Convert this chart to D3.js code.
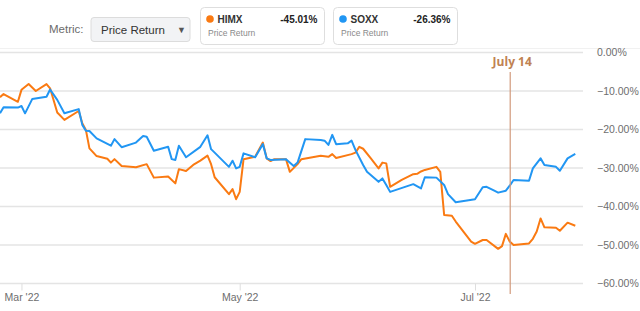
<!DOCTYPE html>
<html>
<head>
<meta charset="utf-8">
<script src="https://cdn.jsdelivr.net/npm/d3@7"></script>
<style>
  html, body { margin: 0; padding: 0; background: #fff; }
  svg { display: block; font-family: "Liberation Sans", Arial, sans-serif; }
</style>
</head>
<body>
<div id="chart"></div>
<script>
// chart size
var chart_width  = 640;
var chart_height = 311;

// series (date, price return %)
var himx = [
  ["2022-02-23", -11.6], ["2022-02-24", -10.8], ["2022-02-28", -12.8], ["2022-03-01", -9.7],
  ["2022-03-03", -8.2], ["2022-03-05", -10.0], ["2022-03-08", -8.2], ["2022-03-09", -9.3],
  ["2022-03-11", -15.6], ["2022-03-13", -17.5], ["2022-03-17", -15.2], ["2022-03-18", -18.4],
  ["2022-03-19", -20.1], ["2022-03-20", -24.9], ["2022-03-22", -26.9], ["2022-03-25", -27.6],
  ["2022-03-26", -28.6], ["2022-03-27", -27.7], ["2022-03-29", -29.5], ["2022-04-02", -29.8],
  ["2022-04-05", -29.0], ["2022-04-07", -32.5], ["2022-04-11", -32.2], ["2022-04-13", -34.0],
  ["2022-04-14", -30.3], ["2022-04-16", -30.8], ["2022-04-18", -29.2], ["2022-04-20", -28.1],
  ["2022-04-22", -26.8], ["2022-04-23", -29.0], ["2022-04-24", -32.4], ["2022-04-28", -36.8],
  ["2022-04-29", -35.5], ["2022-04-30", -38.1], ["2022-05-01", -36.2], ["2022-05-02", -27.7],
  ["2022-05-05", -27.1], ["2022-05-07", -23.4], ["2022-05-08", -27.5], ["2022-05-09", -28.2],
  ["2022-05-10", -27.7], ["2022-05-13", -27.7], ["2022-05-14", -31.0], ["2022-05-16", -29.0],
  ["2022-05-17", -27.7], ["2022-05-22", -26.8], ["2022-05-24", -27.1], ["2022-05-25", -26.4],
  ["2022-05-26", -27.4], ["2022-05-30", -26.4], ["2022-05-31", -26.0], ["2022-06-01", -24.5],
  ["2022-06-02", -25.0], ["2022-06-04", -27.5], ["2022-06-06", -30.1], ["2022-06-07", -28.6],
  ["2022-06-08", -28.8], ["2022-06-09", -34.9], ["2022-06-12", -33.1], ["2022-06-15", -31.6],
  ["2022-06-16", -31.5], ["2022-06-17", -30.9], ["2022-06-18", -30.5], ["2022-06-21", -29.7],
  ["2022-06-22", -31.0], ["2022-06-23", -42.2], ["2022-06-25", -42.4], ["2022-06-26", -43.9],
  ["2022-06-30", -49.1], ["2022-07-01", -49.7], ["2022-07-03", -48.7], ["2022-07-04", -48.7],
  ["2022-07-07", -51.0], ["2022-07-08", -50.3], ["2022-07-09", -47.1], ["2022-07-10", -49.1],
  ["2022-07-11", -50.0], ["2022-07-15", -49.6], ["2022-07-16", -48.4], ["2022-07-17", -46.5],
  ["2022-07-18", -43.1], ["2022-07-19", -45.4], ["2022-07-22", -45.5], ["2022-07-23", -46.3],
  ["2022-07-25", -44.2], ["2022-07-27", -45.01]
];

var soxx = [
  ["2022-02-23", -15.8], ["2022-02-24", -14.2], ["2022-02-28", -14.3], ["2022-03-01", -13.9],
  ["2022-03-02", -15.8], ["2022-03-04", -12.1], ["2022-03-08", -11.5], ["2022-03-09", -9.6],
  ["2022-03-11", -12.3], ["2022-03-13", -15.8], ["2022-03-17", -14.7], ["2022-03-18", -18.8],
  ["2022-03-19", -20.3], ["2022-03-20", -20.4], ["2022-03-22", -22.3], ["2022-03-26", -24.2],
  ["2022-03-27", -22.5], ["2022-03-29", -24.6], ["2022-04-02", -23.4], ["2022-04-04", -21.7],
  ["2022-04-05", -21.9], ["2022-04-07", -25.5], ["2022-04-11", -24.5], ["2022-04-12", -27.7],
  ["2022-04-13", -27.9], ["2022-04-14", -24.2], ["2022-04-16", -27.2], ["2022-04-20", -24.5],
  ["2022-04-22", -21.5], ["2022-04-23", -25.1], ["2022-04-24", -26.0], ["2022-04-28", -29.7],
  ["2022-04-29", -28.1], ["2022-04-30", -30.1], ["2022-05-01", -29.7], ["2022-05-02", -26.2],
  ["2022-05-05", -27.2], ["2022-05-07", -23.8], ["2022-05-08", -27.5], ["2022-05-09", -27.9],
  ["2022-05-13", -27.7], ["2022-05-15", -29.5], ["2022-05-16", -28.6], ["2022-05-18", -22.5],
  ["2022-05-22", -22.7], ["2022-05-23", -22.9], ["2022-05-24", -24.0], ["2022-05-25", -21.4],
  ["2022-05-26", -23.8], ["2022-05-29", -23.6], ["2022-05-30", -22.9], ["2022-05-31", -25.3],
  ["2022-06-02", -29.2], ["2022-06-03", -31.0], ["2022-06-06", -33.6], ["2022-06-07", -32.7],
  ["2022-06-08", -34.4], ["2022-06-09", -36.2], ["2022-06-15", -34.2], ["2022-06-17", -35.3],
  ["2022-06-18", -32.4], ["2022-06-21", -32.5], ["2022-06-23", -34.4], ["2022-06-24", -36.8],
  ["2022-06-26", -38.9], ["2022-07-01", -38.1], ["2022-07-03", -35.0], ["2022-07-04", -34.9],
  ["2022-07-06", -35.9], ["2022-07-07", -36.4], ["2022-07-09", -35.9], ["2022-07-10", -34.6],
  ["2022-07-11", -33.1], ["2022-07-15", -33.3], ["2022-07-16", -30.1], ["2022-07-18", -27.5],
  ["2022-07-19", -29.2], ["2022-07-22", -29.7], ["2022-07-23", -30.7], ["2022-07-25", -27.5],
  ["2022-07-27", -26.36]
];

var series_names  = ["HIMX", "SOXX"];
var series_last   = ["-45.01%", "-26.36%"];
var series_colors = ["#fa7a12", "#2196f3"];

var x_ticks = ["2022-03-01", "2022-05-01", "2022-07-01"];
var y_ticks = [0, -10, -20, -30, -40, -50, -60];
// hand-drawn annotation: sits where the author placed it on the axis
var marker_date  = "2022-07-10";
var marker_label = "July 14";

var parse = d3.timeParse("%Y-%m-%d");

// plot area
var plot = { left: 0, right: 583, top: 52.5, bottom: 283.5 };

// time axis is not evenly spaced in the source, so a piecewise scale
var x = d3.scaleTime()
  .domain([parse("2022-02-23"), parse("2022-05-01"), parse("2022-07-29")])
  .range([plot.left, 239.7, plot.right]);

var y = d3.scaleLinear()
  .domain([-60, 0])
  .range([plot.bottom, plot.top]);

var svg = d3.select("#chart")
  .append("svg")
  .attr("width", chart_width)
  .attr("height", chart_height);

// header
svg.append("line")
  .attr("x1", 0).attr("x2", chart_width)
  .attr("y1", 48.5).attr("y2", 48.5)
  .attr("stroke", "#f1f1f1");

svg.append("text")
  .attr("x", 49).attr("y", 33)
  .attr("font-size", 11.5).attr("fill", "#6b6b6b")
  .text("Metric:");

svg.append("rect")
  .attr("x", 91).attr("y", 17.5)
  .attr("width", 99).attr("height", 24)
  .attr("rx", 3)
  .attr("fill", "#f2f3f5").attr("stroke", "#dcdcdc");

svg.append("text")
  .attr("x", 101).attr("y", 33.5)
  .attr("font-size", 11.5).attr("fill", "#333")
  .text("Price Return");

svg.append("text")
  .attr("x", 181.5).attr("y", 32.5)
  .attr("text-anchor", "middle")
  .attr("font-size", 9).attr("fill", "#555")
  .text("▼");

// legend cards
var cards = svg.selectAll("g.card")
  .data(series_names)
  .enter()
  .append("g")
  .attr("class", "card")
  .attr("transform", function(d, i){ return "translate(" + (200.5 + i * 133) + ",7.5)"; });

cards.append("rect")
  .attr("width", 124).attr("height", 37)
  .attr("rx", 4)
  .attr("fill", "#fff").attr("stroke", "#dedede");

cards.append("circle")
  .attr("cx", 9.5).attr("cy", 11.5).attr("r", 3.8)
  .attr("fill", function(d, i){ return series_colors[i]; });

cards.append("text")
  .attr("x", 17).attr("y", 15)
  .attr("font-size", 10).attr("font-weight", "bold").attr("fill", "#333")
  .text(function(d){ return d; });

cards.append("text")
  .attr("x", 117).attr("y", 15)
  .attr("text-anchor", "end")
  .attr("font-size", 10).attr("font-weight", "bold").attr("fill", "#222")
  .text(function(d, i){ return series_last[i]; });

cards.append("text")
  .attr("x", 7.5).attr("y", 28.5)
  .attr("font-size", 8.5).attr("fill", "#8a8a8a")
  .text("Price Return");

// gridlines
svg.selectAll("line.grid")
  .data(y_ticks)
  .enter()
  .append("line")
  .attr("class", "grid")
  .attr("x1", plot.left).attr("x2", plot.right)
  .attr("y1", function(d){ return y(d); })
  .attr("y2", function(d){ return y(d); })
  .attr("stroke", "#e4e4e4")
  .attr("stroke-width", 1.5);

// y axis labels on the right
var y_axis = d3.axisRight(y)
  .tickValues(y_ticks)
  .tickSize(0)
  .tickPadding(14)
  .tickFormat(function(d){ return d3.format(".2f")(d) + "%"; });

svg.append("g")
  .attr("transform", "translate(" + plot.right + ",0)")
  .call(y_axis)
  .call(function(g){ g.select(".domain").remove(); })
  .selectAll("text")
  .attr("font-size", 10.5)
  .attr("fill", "#6e6e6e")
  .attr("font-family", "Liberation Sans, Arial, sans-serif");

// x axis
var x_axis = d3.axisBottom(x)
  .tickValues(x_ticks.map(parse))
  .tickSize(7)
  .tickPadding(3)
  .tickFormat(d3.timeFormat("%b '%y"));

svg.append("g")
  .attr("transform", "translate(0," + plot.bottom + ")")
  .call(x_axis)
  .call(function(g){ g.select(".domain").remove(); })
  .call(function(g){ g.selectAll(".tick line").attr("stroke", "#dedede"); })
  .selectAll("text")
  .attr("font-size", 10.5)
  .attr("fill", "#6e6e6e")
  .attr("font-family", "Liberation Sans, Arial, sans-serif");

// lines
var line = d3.line()
  .x(function(d){ return x(parse(d[0])); })
  .y(function(d){ return y(d[1]); });

svg.selectAll("path.series")
  .data([himx, soxx])
  .enter()
  .append("path")
  .attr("class", "series")
  .attr("d", line)
  .attr("fill", "none")
  .attr("stroke", function(d, i){ return series_colors[i]; })
  .attr("stroke-width", 2)
  .attr("stroke-linejoin", "round");

// July 14 marker
var mx = x(parse(marker_date)) + 0.5;
svg.append("line")
  .attr("x1", mx).attr("x2", mx)
  .attr("y1", 72).attr("y2", 294)
  .attr("stroke", "#d29a7c")
  .attr("stroke-width", 1.2);

svg.append("text")
  .attr("x", mx + 2).attr("y", 66)
  .attr("text-anchor", "middle")
  .attr("font-size", 12).attr("font-weight", "bold")
  .attr("font-family", "Open Sans, sans-serif")
  .attr("fill", "#c08252")
  .text(marker_label);
</script>
</body>
</html>
